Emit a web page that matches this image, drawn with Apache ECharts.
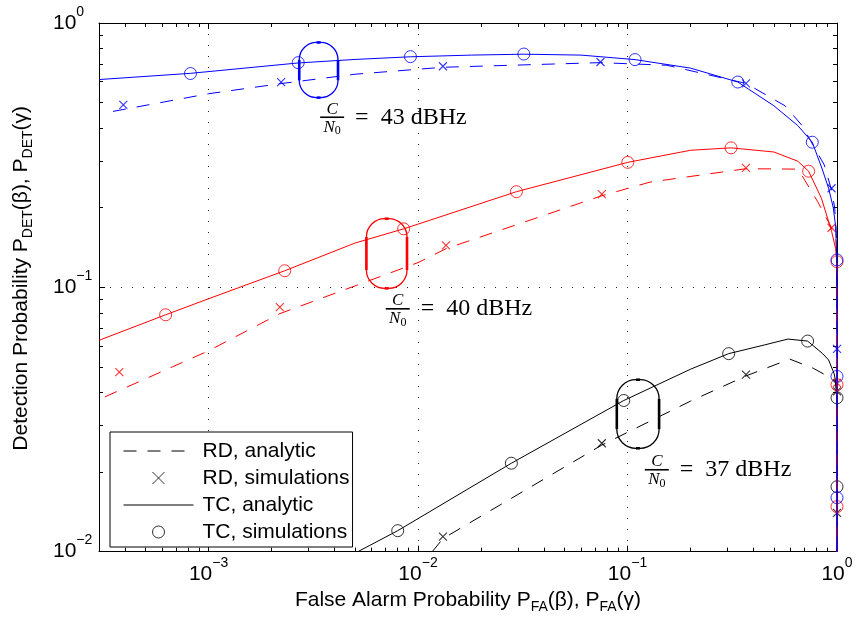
<!DOCTYPE html>
<html>
<head>
<meta charset="utf-8">
<script src="https://cdn.jsdelivr.net/npm/echarts@6/dist/echarts.min.js"></script>
<style>
html, body { margin: 0; padding: 0; background: #fff; }
#chart { width: 856px; height: 619px; }
</style>
</head>
<body>
<div id="chart"></div>
<script>
// tick positions (log axes)
var xTicks = [1e-3, 1e-2, 1e-1, 1];
var xMinorTicks = [4e-4, 5e-4, 6e-4, 7e-4, 8e-4, 9e-4,
  2e-3, 3e-3, 4e-3, 5e-3, 6e-3, 7e-3, 8e-3, 9e-3,
  0.02, 0.03, 0.04, 0.05, 0.06, 0.07, 0.08, 0.09,
  0.2, 0.3, 0.4, 0.5, 0.6, 0.7, 0.8, 0.9];
var yTicks = [1e-2, 1e-1, 1];
var yMinorTicks = [0.02, 0.03, 0.04, 0.05, 0.06, 0.07, 0.08, 0.09,
  0.2, 0.3, 0.4, 0.5, 0.6, 0.7, 0.8, 0.9];

var legendNames = ['RD, analytic', 'RD, simulations', 'TC, analytic', 'TC, simulations'];

// C/N0 = 43 dBHz (blue)
var tc43Line = [[3e-4, 0.611], [8.2e-4, 0.645], [2.68e-3, 0.706], [5e-3, 0.728], [9.2e-3, 0.745],
  [0.018, 0.756], [0.032, 0.762], [0.06, 0.756], [0.1086, 0.727], [0.2, 0.675], [0.336, 0.598],
  [0.5, 0.486], [0.65, 0.409], [0.762, 0.354], [0.85, 0.28], [0.912, 0.237], [0.96, 0.2],
  [0.985, 0.17], [0.997, 0.13], [0.9995, 0.07], [1, 0.005]];
var rd43Line = [[3.5e-4, 0.463], [1e-3, 0.54], [2.22e-3, 0.59], [5e-3, 0.64], [0.01315, 0.68],
  [0.0743, 0.708], [0.154, 0.692], [0.3676, 0.591], [0.565, 0.486], [0.68, 0.41], [0.87, 0.29],
  [0.942, 0.233], [0.975, 0.2], [0.993, 0.16], [0.9995, 0.07], [1, 0.005]];
var rd43Sim = [[3.92e-4, 0.49], [2.22e-3, 0.598], [0.01315, 0.686], [0.0743, 0.712], [0.3676, 0.591],
  [0.942, 0.237], [1, 0.0585]];
var tc43Sim = [[8.2e-4, 0.644], [2.68e-3, 0.708], [9.2e-3, 0.746], [0.032, 0.763], [0.1086, 0.727],
  [0.336, 0.598], [0.762, 0.354], [1, 0.127], [1, 0.046], [1, 0.016]];

// C/N0 = 40 dBHz (red)
var tc40Line = [[3e-4, 0.063], [6.24e-4, 0.0787], [1e-3, 0.0905], [2.31e-3, 0.1155], [5e-3, 0.147],
  [8.54e-3, 0.1664], [0.0295, 0.23], [0.1003, 0.297], [0.2, 0.33], [0.312, 0.337], [0.5, 0.325],
  [0.65, 0.3], [0.732, 0.275], [0.843, 0.217], [0.942, 0.163], [0.985, 0.14], [0.997, 0.125],
  [0.9995, 0.07], [1, 0.005]];
var rd40Line = [[3.2e-4, 0.0385], [1e-3, 0.0575], [2.19e-3, 0.0795], [1e-2, 0.124], [0.0136, 0.14],
  [0.0754, 0.222], [0.128, 0.25], [0.3676, 0.281], [0.653, 0.28], [0.702, 0.254], [0.808, 0.211],
  [0.942, 0.168], [0.99, 0.15], [0.998, 0.13], [0.9999, 0.06], [1, 0.005]];
var rd40Sim = [[3.75e-4, 0.0478], [2.19e-3, 0.0842], [0.0136, 0.144], [0.0754, 0.225], [0.3676, 0.283],
  [0.942, 0.168], [1, 0.0435]];
var tc40Sim = [[6.24e-4, 0.0787], [2.31e-3, 0.1155], [8.54e-3, 0.1664], [0.0295, 0.23], [0.1003, 0.297],
  [0.312, 0.337], [0.732, 0.275], [1, 0.125], [1, 0.0428], [1, 0.0148]];

// C/N0 = 37 dBHz (black)
var tc37Line = [[5.17e-3, 0.01], [8e-3, 0.012], [0.0279, 0.0216], [0.096, 0.0373], [0.2, 0.049],
  [0.304, 0.0561], [0.45, 0.0605], [0.583, 0.0637], [0.724, 0.0626], [0.85, 0.0563], [0.912, 0.0531],
  [0.97, 0.047], [0.99, 0.043], [0.999, 0.035], [0.9999, 0.02], [1, 0.005]];
var rd37Line = [[0.0117, 0.01], [0.01315, 0.0112], [0.0754, 0.0253], [0.2, 0.0371], [0.3676, 0.0462],
  [0.595, 0.0535], [0.77, 0.0494], [0.93, 0.0455], [0.98, 0.044], [0.997, 0.04], [0.9999, 0.02], [1, 0.005]];
var rd37Sim = [[0.01315, 0.0114], [0.0754, 0.0257], [0.3676, 0.0467], [1, 0.0404], [1, 0.014]];
var tc37Sim = [[8e-3, 0.012], [0.0279, 0.0216], [0.096, 0.0373], [0.304, 0.0561], [0.724, 0.0626],
  [1, 0.0382], [1, 0.0176]];

// annotation rings and their labels (data coordinates)
var noteText = ['43 dBHz', '40 dBHz', '37 dBHz'];
var noteRingX = [[2.71e-3, 4.15e-3], [5.67e-3, 8.86e-3], [0.0889, 0.1415]];
var noteRingY = [[0.844, 0.522], [0.1818, 0.0991], [0.0447, 0.0246]];
var noteLabelAt = [[3.89e-3, 0.44], [8.0e-3, 0.0829], [0.138, 0.0204]];
var noteColor = ['#0000ff', '#ff0000', '#000000'];

var FONT = 'Liberation Sans';
var SERIF = 'Liberation Serif';
var CROSS = 'path://M0,0L10,10M10,0L0,10';
var DASH = [13, 11];

var chart = echarts.init(document.getElementById('chart'));

function powLabel(v) {
  var e = Math.round(Math.log10(v));
  return '{b|10}{s|' + (e < 0 ? '\u2212' + (-e) : e) + '}';
}
var labelRich = {
  b: { fontFamily: FONT, fontSize: 21, color: '#000', lineHeight: 36 },
  s: { fontFamily: FONT, fontSize: 14, color: '#000', lineHeight: 16, verticalAlign: 'top' }
};
var nameRich = {
  t: { fontFamily: FONT, fontSize: 21, color: '#000', lineHeight: 27 },
  s: { fontFamily: FONT, fontSize: 14, color: '#000', lineHeight: 14, verticalAlign: 'bottom' }
};

var baseX = { type: 'log', logBase: 10, min: 3e-4, max: 1 };
var baseY = { type: 'log', logBase: 10, min: 1e-2, max: 1 };

function sideAxis(base, position, ticks, len, showLine) {
  return Object.assign({}, base, {
    position: position,
    axisLine: { show: showLine, onZero: false, lineStyle: { color: '#000', width: 1 } },
    axisTick: { show: true, inside: true, length: len, customValues: ticks,
      lineStyle: { color: '#000', width: 1 } },
    axisLabel: { show: false },
    splitLine: { show: false }
  });
}

var mainX = Object.assign({}, baseX, {
  position: 'bottom',
  name: '{t|False Alarm Probability P}{s|FA}{t|(\u03b2), P}{s|FA}{t|(\u03b3)}',
  nameLocation: 'middle',
  nameGap: 31,
  nameTextStyle: { rich: nameRich },
  axisLine: { show: true, onZero: false, lineStyle: { color: '#000', width: 1 } },
  axisTick: { show: true, inside: true, length: 6, customValues: xTicks, lineStyle: { color: '#000' } },
  axisLabel: { customValues: xTicks, formatter: powLabel, rich: labelRich, margin: 5 },
  splitLine: { show: true, lineStyle: { color: '#222', width: 1, type: [1, 10] } }
});
var mainY = Object.assign({}, baseY, {
  position: 'left',
  name: '{t|Detection Probability P}{s|DET}{t|(\u03b2), P}{s|DET}{t|(\u03b3)}',
  nameLocation: 'middle',
  nameRotate: 90,
  nameGap: 64,
  nameTextStyle: { rich: nameRich, padding: [0, 0, 0, 18] },
  axisLine: { show: true, onZero: false, lineStyle: { color: '#000', width: 1 } },
  axisTick: { show: true, inside: true, length: 6, customValues: yTicks, lineStyle: { color: '#000' } },
  axisLabel: { customValues: yTicks, formatter: powLabel, rich: labelRich, margin: 46, align: 'left' },
  splitLine: { show: true, lineStyle: { color: '#222', width: 1, type: [1, 10] } }
});

function lineSeries(name, data, color, dashed) {
  return {
    type: 'line', name: name, data: data, symbol: 'none', clip: true, silent: true,
    lineStyle: { color: color, width: 1, type: dashed ? DASH : 'solid' },
    itemStyle: { color: 'transparent', borderWidth: 0 }
  };
}
function markSeries(name, data, color, cross) {
  return {
    type: 'scatter', name: name, data: data, clip: false, silent: true,
    symbol: cross ? CROSS : 'circle', symbolSize: cross ? 8 : 12,
    itemStyle: { color: 'transparent', borderColor: color, borderWidth: cross ? 1.1 : 1 }
  };
}

function renderNote(params, api) {
  var i = params.dataIndex;
  var p0 = api.coord([noteRingX[i][0], noteRingY[i][0]]);
  var p1 = api.coord([noteRingX[i][1], noteRingY[i][1]]);
  var x = p0[0], y = p0[1], w = p1[0] - p0[0], h = p1[1] - p0[1];
  var r = w / 2 - 2;
  var c = noteColor[i];
  var lp = api.coord(noteLabelAt[i]);
  var thick = { stroke: c, lineWidth: 2.6 };
  return {
    type: 'group',
    children: [
      { type: 'rect', shape: { x: x, y: y, width: w, height: h, r: r },
        style: { fill: 'none', stroke: c, lineWidth: 1.3 } },
      { type: 'line', shape: { x1: x, y1: y + r, x2: x, y2: y + h - r }, style: thick },
      { type: 'line', shape: { x1: x + w, y1: y + r, x2: x + w, y2: y + h - r }, style: thick },
      { type: 'line', shape: { x1: x + r, y1: y, x2: x + w - r, y2: y }, style: thick },
      { type: 'line', shape: { x1: x + r, y1: y + h, x2: x + w - r, y2: y + h }, style: thick },
      { type: 'text', style: { text: 'C', x: lp[0], y: lp[1] - 8,
        font: 'italic 17px "' + SERIF + '"', fill: '#000', align: 'center', verticalAlign: 'middle' } },
      { type: 'line', shape: { x1: lp[0] - 12, y1: lp[1], x2: lp[0] + 12, y2: lp[1] },
        style: { stroke: '#000', lineWidth: 1.6 } },
      { type: 'text', style: { text: '{n|N}{z|0}', x: lp[0], y: lp[1] + 10, align: 'center', verticalAlign: 'middle',
        rich: {
          n: { fontFamily: SERIF, fontStyle: 'italic', fontSize: 17, color: '#000', lineHeight: 20 },
          z: { fontFamily: SERIF, fontSize: 12, color: '#000', lineHeight: 12, verticalAlign: 'bottom' }
        } } },
      { type: 'text', style: { text: '=  ' + noteText[i], x: lp[0] + 23, y: lp[1],
        font: '24px "' + SERIF + '"', fill: '#000', align: 'left', verticalAlign: 'middle' } }
    ]
  };
}

var series = [
  lineSeries('37 TC analytic', tc37Line, '#000000', false),
  lineSeries('37 RD analytic', rd37Line, '#000000', true),
  lineSeries('40 TC analytic', tc40Line, '#ff0000', false),
  lineSeries('40 RD analytic', rd40Line, '#ff0000', true),
  lineSeries('43 TC analytic', tc43Line, '#0000ff', false),
  lineSeries('43 RD analytic', rd43Line, '#0000ff', true),
  markSeries('37 RD sim', rd37Sim, '#000000', true),
  markSeries('37 TC sim', tc37Sim, '#000000', false),
  markSeries('40 RD sim', rd40Sim, '#ff0000', true),
  markSeries('40 TC sim', tc40Sim, '#ff0000', false),
  markSeries('43 RD sim', rd43Sim, '#0000ff', true),
  markSeries('43 TC sim', tc43Sim, '#0000ff', false),
  // black entries that only feed the legend
  lineSeries(legendNames[0], [], '#000000', true),
  markSeries(legendNames[1], [], '#000000', true),
  lineSeries(legendNames[2], [], '#000000', false),
  markSeries(legendNames[3], [], '#000000', false),
  {
    type: 'custom', name: 'notes', silent: true, z: 6,
    data: noteLabelAt,
    renderItem: renderNote
  }
];

chart.setOption({
  animation: false,
  backgroundColor: '#fff',
  grid: { left: 99, right: 19, top: 23, bottom: 62, containLabel: false },
  legend: {
    data: legendNames,
    orient: 'vertical',
    left: 110,
    top: 432,
    itemWidth: 70,
    itemHeight: 12,
    itemGap: 3,
    padding: [7, 3, 3, 13],
    backgroundColor: '#fff',
    borderColor: '#000',
    borderWidth: 1,
    borderRadius: 0,
    selectedMode: false,
    lineStyle: { width: 1 },
    itemStyle: { borderWidth: 1 },
    textStyle: { fontFamily: FONT, fontSize: 21, color: '#000', lineHeight: 24, padding: [0, 0, 0, 4] }
  },
  xAxis: [
    mainX,
    sideAxis(baseX, 'bottom', xMinorTicks, 4, false),
    sideAxis(baseX, 'top', xTicks, 6, true),
    sideAxis(baseX, 'top', xMinorTicks, 4, false)
  ],
  yAxis: [
    mainY,
    sideAxis(baseY, 'left', yMinorTicks, 4, false),
    sideAxis(baseY, 'right', yTicks, 6, true),
    sideAxis(baseY, 'right', yMinorTicks, 4, false)
  ],
  series: series
});
</script>
</body>
</html>
